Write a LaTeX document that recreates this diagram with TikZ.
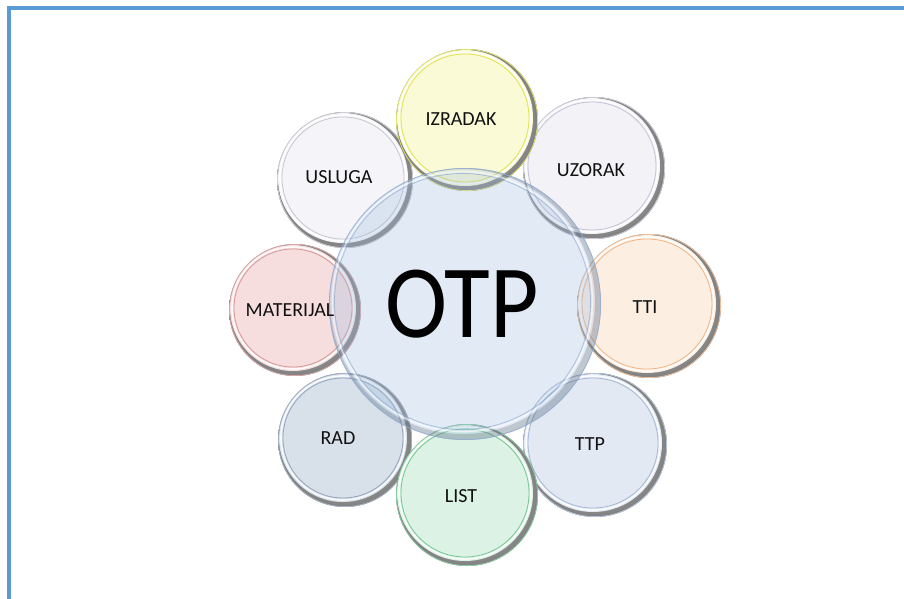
\documentclass[tikz,border=0pt]{standalone}
\usepackage{fontspec}
\setmainfont{Carlito}
\usetikzlibrary{calc}
\definecolor{framec}{HTML}{5B9BD5}
\definecolor{txt}{HTML}{111111}
\definecolor{fyel}{HTML}{FAFAD6}\definecolor{ryel}{HTML}{E2E24E}
\definecolor{fuzo}{HTML}{F3F2F7}\definecolor{ruzo}{HTML}{C4C2D6}
\definecolor{ftti}{HTML}{FDEEE2}\definecolor{rtti}{HTML}{EEB486}
\definecolor{fttp}{HTML}{E2E9F3}\definecolor{rttp}{HTML}{A4B9D6}
\definecolor{flis}{HTML}{DCF2E4}\definecolor{rlis}{HTML}{72C892}
\definecolor{frad}{HTML}{D8E0EA}\definecolor{rrad}{HTML}{93A4BC}
\definecolor{fmat}{HTML}{F6DEDE}\definecolor{rmat}{HTML}{D69696}
\definecolor{fusl}{HTML}{F5F4F8}\definecolor{rusl}{HTML}{C6C6D0}
\definecolor{fotp}{HTML}{9EBCDE}\definecolor{rotp}{HTML}{93AED4}
\newcommand\mybub[6]{%
  \coordinate (#1) at (#2,#3);
  \shade[inner color=black!10, outer color=black!50] (#1) circle[radius=#4pt];
  \fill[#5] ($(#1)+(-2,-2)$) circle[radius=#4pt-3pt];
  \draw[#6!85!white, line width=0.7pt] (#1) circle[radius=#4pt-0.4pt];
  \draw[white, line width=1.6pt, opacity=0.85] ($(#1)+(-2,-2)$) circle[radius=#4pt-5pt];
  \draw[#6, line width=0.8pt] ($(#1)+(-2,-2)$) circle[radius=#4pt-7pt];
}
\tikzset{lbl/.style={inner sep=0pt, text=txt, font=\fontsize{20}{22}\selectfont}}
\begin{document}
\begin{tikzpicture}[x=1pt,y=-1pt]
\useasboundingbox (0,0) rectangle (904,599);
\fill[white] (0,0) rectangle (904,599);
\draw[framec, line width=4pt] (9,599) -- (9,8) -- (904,8);

\mybub{cusl}{345}{180}{68}{fusl}{rusl}
\mybub{cmat}{295}{310}{66}{fmat}{rmat}
\mybub{crad}{345}{440}{67}{frad}{rrad}
\mybub{cuzo}{594}{168}{71}{fuzo}{ruzo}
\mybub{ctti}{649}{306}{72}{ftti}{rtti}
\mybub{cttp}{595}{445}{72}{fttp}{rttp}
\mybub{cizr}{467}{120}{71}{fyel}{ryel}
\mybub{clis}{467}{495}{71}{flis}{rlis}

% central translucent circle
\coordinate (cotp) at (465,304);
\fill[fotp, fill opacity=0.3] (cotp) circle[radius=136pt];
\fill[black, fill opacity=0.15, even odd rule] (cotp) circle[radius=136pt] ($(cotp)+(-2.5,-2.5)$) circle[radius=132.5pt];
\draw[rotp, line width=0.8pt, opacity=0.85] (cotp) circle[radius=135.6pt];
\draw[white, line width=1.6pt, opacity=0.6] ($(cotp)+(-2.5,-2.5)$) circle[radius=130pt];
\draw[rotp, line width=0.8pt, opacity=0.7] ($(cotp)+(-2.5,-2.5)$) circle[radius=128pt];

\node[inner sep=0pt, text=black] (totp) at (462,304) {\scalebox{0.9}[1]{\fontsize{104}{110}\selectfont OTP}};
\node[lbl] (tizr) at (461,119) {IZRADAK};
\node[lbl] (tuzo) at (591,170) {UZORAK};
\node[lbl] (ttti) at (645,307) {TTI};
\node[lbl] (tttp) at (590,444) {TTP};
\node[lbl] (tlis) at (461,496) {LIST};
\node[lbl] (trad) at (338,438) {RAD};
\node[lbl] (tusl) at (339,177) {USLUGA};
\node[lbl] (tmat) at (290,310) {MATERIJAL};
\end{tikzpicture}
\end{document}
